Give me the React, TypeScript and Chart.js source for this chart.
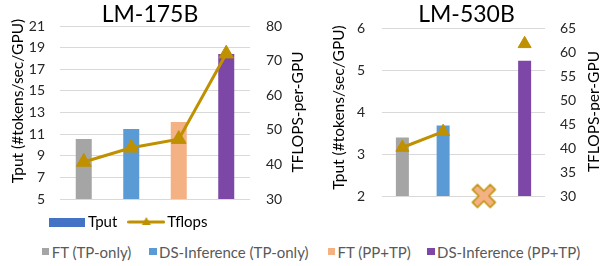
import React, { useEffect, useRef } from 'react';
import Chart from 'chart.js/auto';

// ---------- data ----------
const categories = ['FT (TP-only)', 'DS-Inference (TP-only)', 'FT (PP+TP)', 'DS-Inference (PP+TP)'];
const barColors = ['#A5A5A5', '#5B9BD5', '#F4B183', '#7C47A6'];

const tput175 = [10.55, 11.47, 12.12, 18.42];
const tflops175 = [40.7, 44.8, 47.3, 72.0];
const tputTicks175 = [5, 7, 9, 11, 13, 15, 17, 19, 21];
const tflopsTicks175 = [30, 40, 50, 60, 70, 80];

const tput530 = [3.39, 3.68, null, 5.22];
const tflops530 = [40.1, 43.4, null, 61.7];
const oom530 = [null, null, 2, null];
const tputTicks530 = [2, 3, 4, 5, 6];
const tflopsTicks530 = [30, 35, 40, 45, 50, 55, 60, 65];

const GOLD = '#BF9000';
const LEGEND_BLUE = '#4472C4';
const GRID = '#D9D9D9';
const TICK_COLOR = '#262626';
const FONT = 'Lato';

Chart.defaults.font.family = FONT;

const axisTitlePlugin = {
  id: 'axisTitles',
  afterLayout(chart: any, _args: any, opts: any) {
    if (opts && typeof opts.legendLeft === 'number' && chart.legend) {
      const lg = chart.legend;
      const w = lg.right - lg.left;
      lg.left = opts.legendLeft;
      lg.right = opts.legendLeft + w;
    }
  },
  afterDraw(chart: any, _args: any, opts: any) {
    const ctx = chart.ctx;
    const items = opts && opts.items ? opts.items : [];
    for (let i = 0; i < items.length; i++) {
      const it = items[i];
      ctx.save();
      ctx.translate(it.x, it.y);
      ctx.rotate(-Math.PI / 2);
      ctx.font = `${it.size}px ${FONT}`;
      ctx.fillStyle = '#000';
      ctx.textAlign = 'center';
      ctx.textBaseline = 'middle';
      ctx.fillText(it.text, 0, 0);
      ctx.restore();
    }
  },
};

function makeRectIcon() {
  const c = document.createElement('canvas');
  c.width = 36; c.height = 9;
  const ctx = c.getContext('2d')!;
  ctx.fillStyle = LEGEND_BLUE;
  ctx.fillRect(0, 0, 36, 9);
  return c;
}

function makeLineIcon() {
  const c = document.createElement('canvas');
  c.width = 38; c.height = 12;
  const ctx = c.getContext('2d')!;
  ctx.strokeStyle = GOLD;
  ctx.lineWidth = 3;
  ctx.lineCap = 'round';
  ctx.beginPath();
  ctx.moveTo(1.5, 6);
  ctx.lineTo(36.5, 6);
  ctx.stroke();
  ctx.fillStyle = GOLD;
  ctx.beginPath();
  ctx.moveTo(19, 1);
  ctx.lineTo(23.5, 9);
  ctx.lineTo(14.5, 9);
  ctx.closePath();
  ctx.fill();
  return c;
}

function makeXIcon() {
  const size = 27;
  const c = document.createElement('canvas');
  c.width = size; c.height = size;
  const ctx = c.getContext('2d')!;
  const a = 3.6, L = 12.6;
  const pts = [
    [a, -L], [a, -a], [L, -a], [L, a], [a, a], [a, L],
    [-a, L], [-a, a], [-L, a], [-L, -a], [-a, -a], [-a, -L],
  ];
  const cs = Math.cos(Math.PI / 4), sn = Math.sin(Math.PI / 4);
  ctx.beginPath();
  pts.forEach(([px, py], i) => {
    const x = size / 2 + px * cs - py * sn;
    const y = size / 2 + px * sn + py * cs;
    if (i === 0) ctx.moveTo(x, y); else ctx.lineTo(x, y);
  });
  ctx.closePath();
  ctx.fillStyle = '#F4B183';
  ctx.fill();
  ctx.lineWidth = 1.5;
  ctx.lineJoin = 'round';
  ctx.strokeStyle = GOLD;
  ctx.stroke();
  return c;
}

function yScale(ticks: number[], position: string, padding: number, width: number, grid: boolean) {
  return {
    position,
    min: ticks[0],
    max: ticks[ticks.length - 1],
    ticks: { stepSize: ticks[1] - ticks[0], padding, color: TICK_COLOR, font: { size: 14 } },
    grid: { display: grid, color: GRID, lineWidth: 1, drawTicks: false },
    border: { display: false },
    afterFit: (s: any) => { s.width = width; },
  };
}

function LeftChart() {
  const ref = useRef<HTMLCanvasElement>(null);
  useEffect(() => {
    const rectIcon = makeRectIcon();
    const lineIcon = makeLineIcon();
    const chart = new Chart(ref.current!, {
      type: 'bar',
      data: {
        labels: categories,
        datasets: [
          {
            type: 'line', label: 'Tflops', data: tflops175, yAxisID: 'y1',
            borderColor: GOLD, backgroundColor: GOLD, borderWidth: 3,
            pointStyle: 'triangle', pointRadius: 8.5, pointBorderWidth: 1,
            pointBackgroundColor: GOLD, pointBorderColor: GOLD, order: 0, clip: false,
          } as any,
          {
            type: 'bar', label: 'Tput', data: tput175, yAxisID: 'y',
            backgroundColor: barColors, barPercentage: 0.337, categoryPercentage: 1, order: 1,
          },
        ],
      },
      options: {
        animation: false,
        responsive: false,
        layout: { padding: { left: 0, right: 10, top: 0, bottom: 0.5 } },
        scales: {
          x: { display: false, offset: true },
          y: yScale(tputTicks175, 'left', 15, 60, true) as any,
          y1: yScale(tflopsTicks175, 'right', 16, 50, false) as any,
        },
        plugins: {
          title: {
            display: true, text: 'LM-175B', color: '#000',
            font: { size: 23, weight: 'normal', lineHeight: 1 },
            padding: { top: 3, bottom: 0 },
          },
          legend: {
            display: true, position: 'bottom', align: 'start',
            labels: {
              usePointStyle: true, pointStyleWidth: 27, padding: 15.5,
              color: '#000', font: { size: 15 },
              generateLabels: () => [
                { text: 'Tput', pointStyle: rectIcon, fillStyle: LEGEND_BLUE, strokeStyle: LEGEND_BLUE, lineWidth: 0, hidden: false, datasetIndex: 1, fontColor: '#000' },
                { text: 'Tflops', pointStyle: lineIcon, fillStyle: GOLD, strokeStyle: GOLD, lineWidth: 0, hidden: false, datasetIndex: 0, fontColor: '#000' },
              ] as any,
            },
          },
          tooltip: { enabled: false },
          axisTitles: {
            legendLeft: 38,
            items: [
              { text: 'Tput (#tokens/sec/GPU)', x: 17.5, y: 101, size: 15.5 },
              { text: 'TFLOPS-per-GPU', x: 298, y: 112, size: 15.5 },
            ],
          },
        } as any,
      },
      plugins: [axisTitlePlugin],
    });
    return () => chart.destroy();
  }, []);
  return <canvas ref={ref} width={310} height={240} style={{ position: 'absolute', left: 0, top: 0, width: 310, height: 240 }} />;
}

function RightChart() {
  const ref = useRef<HTMLCanvasElement>(null);
  useEffect(() => {
    const xIcon = makeXIcon();
    const chart = new Chart(ref.current!, {
      type: 'bar',
      data: {
        labels: categories,
        datasets: [
          {
            type: 'line', label: 'OOM', data: oom530, yAxisID: 'y',
            showLine: false, pointStyle: xIcon, pointRadius: 12, order: -1, clip: false,
          } as any,
          {
            type: 'line', label: 'Tflops', data: tflops530, yAxisID: 'y1',
            borderColor: GOLD, backgroundColor: GOLD, borderWidth: 3, spanGaps: false,
            pointStyle: 'triangle', pointRadius: 7.5, pointBorderWidth: 1,
            pointBackgroundColor: GOLD, pointBorderColor: GOLD, order: 0, clip: false,
          } as any,
          {
            type: 'bar', label: 'Tput', data: tput530, yAxisID: 'y',
            backgroundColor: barColors, barPercentage: 0.319, categoryPercentage: 1, order: 1,
          },
        ],
      },
      options: {
        animation: false,
        responsive: false,
        layout: { padding: { left: 23, right: 0, top: 0, bottom: 44 } },
        scales: {
          x: { display: false, offset: true },
          y: yScale(tputTicks530, 'left', 17, 49, true) as any,
          y1: yScale(tflopsTicks530, 'right', 15, 55, false) as any,
        },
        plugins: {
          title: {
            display: true, text: 'LM-530B', color: '#000',
            font: { size: 23, weight: 'normal', lineHeight: 1 },
            padding: { top: 3, bottom: 2 },
          },
          legend: { display: false },
          tooltip: { enabled: false },
          axisTitles: {
            items: [
              { text: 'Tput (#tokens/sec/GPU)', x: 29, y: 107.5, size: 15.5 },
              { text: 'TFLOPS-per-GPU', x: 283.5, y: 111.5, size: 15.5 },
            ],
          },
        } as any,
      },
      plugins: [axisTitlePlugin],
    });
    return () => chart.destroy();
  }, []);
  return <canvas ref={ref} width={290} height={240} style={{ position: 'absolute', left: 310, top: 0, width: 290, height: 240 }} />;
}

const legendLeft = [41.7, 149, 327.5, 427];

export default function App() {
  useEffect(() => {
    document.body.style.margin = '0';
  }, []);
  return (
    <div style={{ position: 'relative', width: 600, height: 266, background: '#fff', overflow: 'hidden' }}>
      <LeftChart />
      <RightChart />
      {categories.map((c, i) => (
        <div key={c} style={{ position: 'absolute', left: legendLeft[i], top: 243, height: 17, display: 'flex', alignItems: 'center', whiteSpace: 'nowrap', fontFamily: FONT, fontSize: 15, color: '#595959' }}>
          <span style={{ display: 'inline-block', width: 7.5, height: 7.5, background: barColors[i], marginRight: 2.5 }} />
          <span>{c}</span>
        </div>
      ))}
    </div>
  );
}
